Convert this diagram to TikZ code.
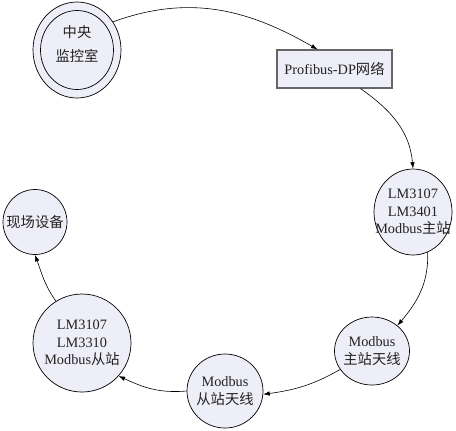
\documentclass[tikz,border=0pt]{standalone}
\usepackage{fontspec}
\setmainfont{Liberation Serif}
\newfontfamily\cjk{Noto Sans CJK SC}
\usetikzlibrary{arrows.meta,shapes.geometric}
\definecolor{nodefill}{RGB}{238,238,248}
\definecolor{txtcol}{RGB}{35,35,35}
\begin{document}
\begin{tikzpicture}[x=1bp,y=1bp,
  nd/.style={draw=black, line width=0.7bp, fill=nodefill, inner sep=0pt},
  ell/.style={nd, ellipse},
  lbl/.style={align=center, font=\fontsize{14.3bp}{17.5bp}\selectfont, text=txtcol},
  link/.style={draw=black, line width=0.6bp, -{Latex[length=6.5bp,width=4.5bp]}}]
\useasboundingbox (0,0) rectangle (456,-430);
% nodes
\node[ell, minimum width=88bp, minimum height=96bp] (c) at (77,-50) {};
\draw[line width=0.7bp] (c.center) ellipse[x radius=36.5, y radius=39.5];
\node[lbl, font=\fontsize{14.3bp}{24bp}\selectfont\cjk] (ct) at (77,-44) {中央\\监控室};

\node[nd, rectangle, minimum width=115bp, minimum height=38bp, draw=black!60, line width=1.2bp] (p) at (334.5,-69) {};
\node[lbl] (pt) at (p) {Profibus-DP{\cjk 网络}};

\node[ell, minimum width=78bp, minimum height=86bp] (m) at (413,-212) {};
\node[lbl] (mt) at (m) {LM3107\\LM3401\\Modbus{\cjk 主站}};

\node[ell, minimum width=75bp, minimum height=68bp] (a) at (372,-351) {};
\node[lbl] (at) at (a) {Modbus\\{\cjk 主站天线}};

\node[ell, minimum width=76bp, minimum height=74bp] (s) at (225,-391) {};
\node[lbl] (st) at (s) {Modbus\\{\cjk 从站天线}};

\node[ell, minimum width=98bp, minimum height=98bp] (l) at (82,-343) {};
\node[lbl] (lt) at (l) {LM3107\\LM3310\\Modbus{\cjk 从站}};

\node[ell, minimum width=64bp, minimum height=65bp] (f) at (35,-222) {};
\node[lbl] (ft) at (f) {{\cjk 现场设备}};

% connectors
\draw[link] (c.38) to[out=20,in=150] ([xshift=-17bp]p.north);
\draw[link] ([xshift=26bp]p.south) to[out=-35,in=95] (m.north);
\draw[link] (m.-70) to[out=-88,in=50] (a.45);
\draw[link] (a.210) to[out=210,in=8] (s.-5);
\draw[link] (s.180) to[out=185,in=-25] (l.-42);
\draw[link] (l.122) to[out=125,in=-70] (f.-90);
\end{tikzpicture}
\end{document}
